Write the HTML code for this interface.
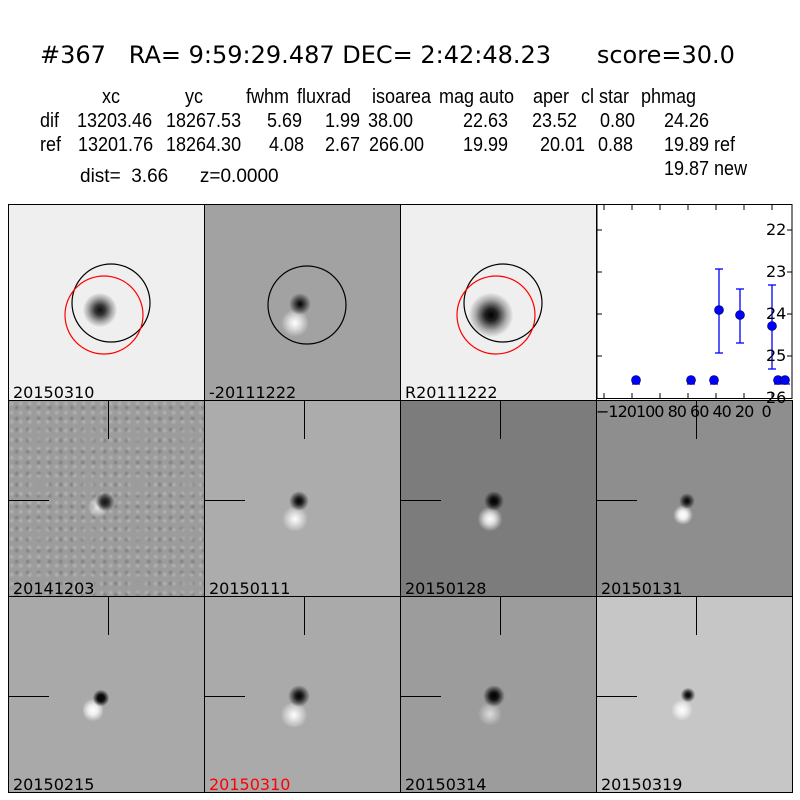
<!DOCTYPE html>
<html><head><style>
body{margin:0;background:#fff;width:800px;height:800px;position:relative;overflow:hidden;font-family:"DejaVu Sans","Liberation Sans",sans-serif}
.t{position:absolute;white-space:pre;color:#000}
.h{position:absolute;white-space:pre;font-size:20px;font-family:"Liberation Sans",sans-serif;transform:scaleX(0.9);transform-origin:0 0}
.p{position:absolute;width:197px;height:197px;border:1px solid #000;overflow:hidden;box-sizing:border-box}
.lab{position:absolute;left:4px;bottom:-2px;font-size:16px;font-family:"DejaVu Sans",sans-serif}
.vl{position:absolute;left:99px;top:0;width:1px;height:38px;background:#000}
.hl{position:absolute;left:0;top:99px;width:40px;height:1px;background:#000}
.d{position:absolute;border-radius:50%}
</style></head><body>
<div class="t" style="left:40px;top:41px;font-size:24px">#367   RA= 9:59:29.487 DEC= 2:42:48.23      score=30.0</div>
<div class="h" style="left:102px;top:86px">xc</div><div class="h" style="left:185px;top:86px">yc</div><div class="h" style="left:246px;top:86px">fwhm</div><div class="h" style="left:297px;top:86px">fluxrad</div><div class="h" style="left:372px;top:86px">isoarea</div><div class="h" style="left:439px;top:86px">mag auto</div><div class="h" style="left:533px;top:86px">aper</div><div class="h" style="left:581px;top:86px">cl star</div><div class="h" style="left:641px;top:86px">phmag</div>
<div class="h" style="left:40px;top:110px">dif</div><div class="h" style="left:77px;top:110px">13203.46</div><div class="h" style="left:166px;top:110px">18267.53</div><div class="h" style="left:267px;top:110px">5.69</div><div class="h" style="left:325px;top:110px">1.99</div><div class="h" style="left:368px;top:110px">38.00</div><div class="h" style="left:463px;top:110px">22.63</div><div class="h" style="left:532px;top:110px">23.52</div><div class="h" style="left:600px;top:110px">0.80</div><div class="h" style="left:664px;top:110px">24.26</div>
<div class="h" style="left:40px;top:134px">ref</div><div class="h" style="left:78px;top:134px">13201.76</div><div class="h" style="left:166px;top:134px">18264.30</div><div class="h" style="left:269px;top:134px">4.08</div><div class="h" style="left:325px;top:134px">2.67</div><div class="h" style="left:369px;top:134px">266.00</div><div class="h" style="left:463px;top:134px">19.99</div><div class="h" style="left:540px;top:134px">20.01</div><div class="h" style="left:598px;top:134px">0.88</div><div class="h" style="left:664px;top:134px">19.89 ref</div>
<div class="h" style="left:664px;top:158px">19.87 new</div>
<div class="t" style="left:80px;top:166px;font-size:19px;font-family:'Liberation Sans',sans-serif">dist=  3.66      z=0.0000</div>

<!-- row 1 -->
<div class="p" style="left:8px;top:204px;background:#efefef">
 <div class="d" style="left:74px;top:88px;width:34px;height:34px;background:radial-gradient(circle,#111 0,#333 20%,#aaa 50%,rgba(239,239,239,0) 72%)"></div>
 <svg width="196" height="196" style="position:absolute;left:0;top:0"><circle cx="102" cy="98" r="39" fill="none" stroke="#000" stroke-width="1.2"/><circle cx="95" cy="110" r="39" fill="none" stroke="red" stroke-width="1.2"/></svg>
 <div class="lab">20150310</div></div>
<div class="p" style="left:204px;top:204px;background:#a2a2a2">
 <div class="d" style="left:76px;top:104px;width:28px;height:28px;background:radial-gradient(circle,#fff 0,#ddd 30%,rgba(162,162,162,0) 70%)"></div>
 <div class="d" style="left:84px;top:88px;width:22px;height:22px;background:radial-gradient(circle,#000 0,#333 25%,rgba(162,162,162,0) 70%)"></div>
 <svg width="196" height="196" style="position:absolute;left:0;top:0"><circle cx="102" cy="100" r="39" fill="none" stroke="#000" stroke-width="1.2"/></svg>
 <div class="lab">-20111222</div></div>
<div class="p" style="left:400px;top:204px;background:#efefef">
 <div class="d" style="left:68px;top:88px;width:44px;height:44px;background:radial-gradient(circle,#000 0,#222 20%,#aaa 50%,rgba(239,239,239,0) 72%)"></div>
 <svg width="196" height="196" style="position:absolute;left:0;top:0"><circle cx="102" cy="98" r="39" fill="none" stroke="#000" stroke-width="1.2"/><circle cx="95" cy="110" r="39" fill="none" stroke="red" stroke-width="1.2"/></svg>
 <div class="lab">R20111222</div></div>
<svg style="position:absolute;left:596px;top:204px" width="200" height="200" viewBox="596 204 200 200">
 <rect x="597" y="204.5" width="195" height="194" fill="#fff" stroke="#000" stroke-width="1"/>
 <g stroke="#000"><line x1="597" y1="230" x2="602" y2="230"/><line x1="597" y1="272" x2="602" y2="272"/><line x1="597" y1="314" x2="602" y2="314"/><line x1="597" y1="356" x2="602" y2="356"/>
 <line x1="792" y1="230" x2="787" y2="230"/><line x1="792" y1="272" x2="787" y2="272"/><line x1="792" y1="314" x2="787" y2="314"/><line x1="792" y1="356" x2="787" y2="356"/>
 <line x1="604" y1="205" x2="604" y2="210"/><line x1="632" y1="205" x2="632" y2="210"/><line x1="660" y1="205" x2="660" y2="210"/><line x1="688" y1="205" x2="688" y2="210"/><line x1="716" y1="205" x2="716" y2="210"/><line x1="744" y1="205" x2="744" y2="210"/><line x1="772" y1="205" x2="772" y2="210"/>
 <line x1="604" y1="398" x2="604" y2="393"/><line x1="632" y1="398" x2="632" y2="393"/><line x1="660" y1="398" x2="660" y2="393"/><line x1="688" y1="398" x2="688" y2="393"/><line x1="716" y1="398" x2="716" y2="393"/><line x1="744" y1="398" x2="744" y2="393"/><line x1="772" y1="398" x2="772" y2="393"/></g>
 <g stroke="#00f" stroke-width="1.3"><line x1="719" y1="269" x2="719" y2="353"/><line x1="715" y1="269" x2="723" y2="269"/><line x1="715" y1="353" x2="723" y2="353"/>
 <line x1="740" y1="289" x2="740" y2="343"/><line x1="736" y1="289" x2="744" y2="289"/><line x1="736" y1="343" x2="744" y2="343"/>
 <line x1="772" y1="285" x2="772" y2="369"/><line x1="768" y1="285" x2="776" y2="285"/><line x1="768" y1="369" x2="776" y2="369"/>
 <line x1="632" y1="384" x2="640" y2="384"/><line x1="687" y1="384" x2="695" y2="384"/><line x1="710" y1="384" x2="718" y2="384"/><line x1="774" y1="384" x2="790" y2="384"/></g>
 <g fill="#00f" stroke="#003" stroke-width="0.6"><circle cx="636" cy="380" r="4.5"/><circle cx="691" cy="380" r="4.5"/><circle cx="714" cy="380" r="4.5"/><circle cx="719" cy="310" r="4.5"/><circle cx="740" cy="315" r="4.5"/><circle cx="772" cy="326" r="4.5"/><circle cx="778" cy="380" r="4.5"/><circle cx="785" cy="380" r="4.5"/></g>
</svg>
<div class="t" style="left:766px;top:220px;font-size:16px">22</div>
<div class="t" style="left:766px;top:262px;font-size:16px">23</div>
<div class="t" style="left:766px;top:304px;font-size:16px">24</div>
<div class="t" style="left:766px;top:346px;font-size:16px">25</div>

<!-- row 2 -->
<div class="p" style="left:8px;top:400px;background-color:#9c9c9c;background-image:radial-gradient(circle at 30% 30%,rgba(255,255,255,0.25) 0,rgba(255,255,255,0) 3px),radial-gradient(circle at 70% 60%,rgba(0,0,0,0.2) 0,rgba(0,0,0,0) 3px);background-size:9px 9px,11px 11px">
 <div class="d" style="left:78px;top:96px;width:22px;height:20px;background:radial-gradient(circle,#eee 0,rgba(200,200,200,0) 70%)"></div>
 <div class="d" style="left:86px;top:92px;width:20px;height:18px;background:radial-gradient(circle,#111 0,#333 30%,rgba(150,150,150,0) 70%)"></div>
 <div class="vl"></div><div class="hl"></div><div class="lab">20141203</div></div>
<div class="p" style="left:204px;top:400px;background:#acacac">
 <div class="d" style="left:76px;top:106px;width:28px;height:24px;background:radial-gradient(circle,#fff 0,#ddd 30%,rgba(172,172,172,0) 70%)"></div>
 <div class="d" style="left:84px;top:90px;width:20px;height:20px;background:radial-gradient(circle,#000 0,#222 25%,rgba(172,172,172,0) 70%)"></div>
 <div class="vl"></div><div class="hl"></div><div class="lab">20150111</div></div>
<div class="p" style="left:400px;top:400px;background:#7c7c7c">
 <div class="d" style="left:76px;top:106px;width:26px;height:24px;background:radial-gradient(circle,#fff 0,#ddd 30%,rgba(124,124,124,0) 70%)"></div>
 <div class="d" style="left:83px;top:90px;width:20px;height:20px;background:radial-gradient(circle,#000 0,#111 25%,rgba(124,124,124,0) 70%)"></div>
 <div class="vl"></div><div class="hl"></div><div class="lab">20150128</div></div>
<div class="p" style="left:596px;top:400px;background:#8e8e8e">
 <div class="d" style="left:76px;top:104px;width:20px;height:20px;background:radial-gradient(circle,#fff 0,#eee 30%,rgba(142,142,142,0) 70%)"></div>
 <div class="d" style="left:82px;top:92px;width:16px;height:16px;background:radial-gradient(circle,#000 0,#222 25%,rgba(142,142,142,0) 70%)"></div>
 <div class="vl"></div><div class="hl"></div><div class="lab">20150131</div></div>

<!-- row 3 -->
<div class="p" style="left:8px;top:596px;background:#a9a9a9">
 <div class="d" style="left:74px;top:100px;width:20px;height:26px;background:radial-gradient(circle,#fff 0,#eee 30%,rgba(169,169,169,0) 70%)"></div>
 <div class="d" style="left:84px;top:92px;width:16px;height:18px;background:radial-gradient(circle,#000 0,#111 30%,rgba(169,169,169,0) 70%)"></div>
 <div class="vl"></div><div class="hl"></div><div class="lab">20150215</div></div>
<div class="p" style="left:204px;top:596px;background:#aaa">
 <div class="d" style="left:74px;top:106px;width:30px;height:24px;background:radial-gradient(circle,#fff 0,#ddd 30%,rgba(170,170,170,0) 70%)"></div>
 <div class="d" style="left:83px;top:88px;width:22px;height:22px;background:radial-gradient(circle,#000 0,#222 25%,rgba(170,170,170,0) 70%)"></div>
 <div class="vl"></div><div class="hl"></div><div class="lab" style="color:red">20150310</div></div>
<div class="p" style="left:400px;top:596px;background:#9c9c9c">
 <div class="d" style="left:76px;top:106px;width:26px;height:22px;background:radial-gradient(circle,#ddd 0,rgba(156,156,156,0) 70%)"></div>
 <div class="d" style="left:82px;top:88px;width:22px;height:22px;background:radial-gradient(circle,#000 0,#111 25%,rgba(156,156,156,0) 70%)"></div>
 <div class="vl"></div><div class="hl"></div><div class="lab">20150314</div></div>
<div class="p" style="left:596px;top:596px;background:#c6c6c6">
 <div class="d" style="left:74px;top:102px;width:22px;height:22px;background:radial-gradient(circle,#fff 0,#eee 30%,rgba(198,198,198,0) 70%)"></div>
 <div class="d" style="left:83px;top:91px;width:16px;height:14px;background:radial-gradient(circle,#000 0,#222 25%,rgba(198,198,198,0) 70%)"></div>
 <div class="vl"></div><div class="hl"></div><div class="lab">20150319</div></div>

<div class="t" style="left:596px;top:402px;font-size:16px;letter-spacing:-1px">−120100 80 60 40 20  0</div>
<div class="t" style="left:766px;top:388px;font-size:16px">26</div>
</body></html>
